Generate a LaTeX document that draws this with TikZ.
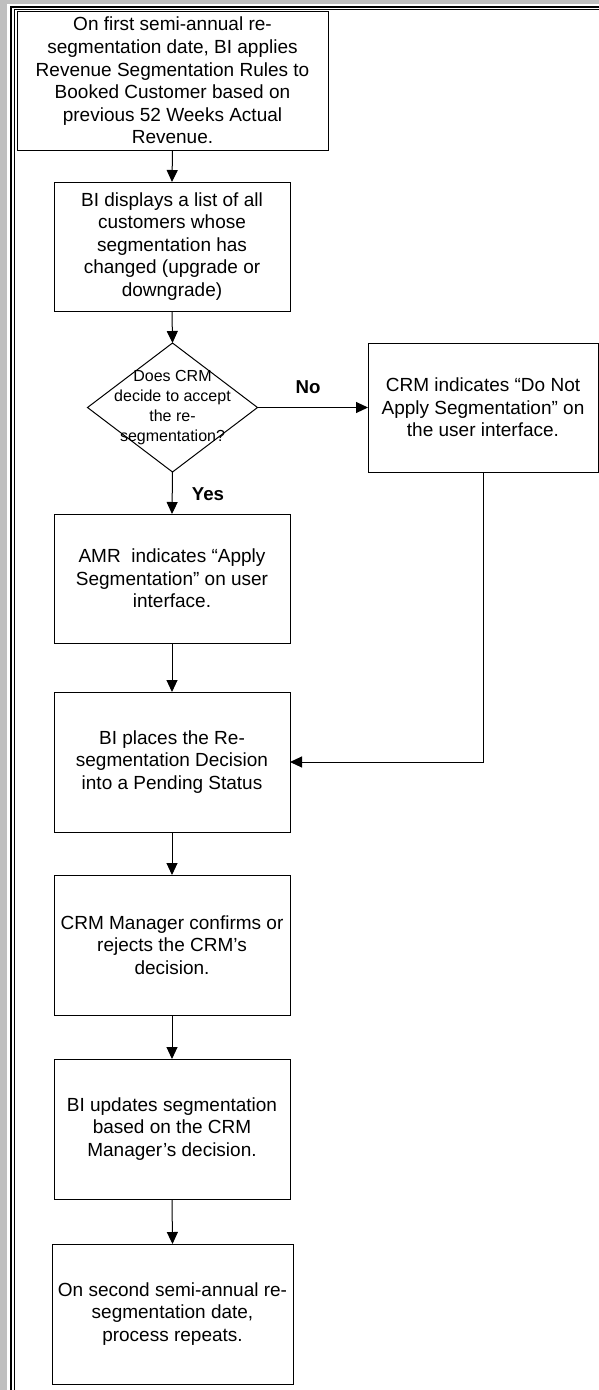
\documentclass[tikz,border=0pt]{standalone}
\usepackage{fontspec}
\setmainfont{Liberation Sans}
\usetikzlibrary{shapes.geometric,arrows.meta}
\begin{document}
\begin{tikzpicture}[x=0.75pt,y=-0.75pt,
  every node/.style={inner sep=0pt, outer sep=0pt},
  stepbox/.style={draw=black, line width=0.75pt, fill=white,
    minimum width=177pt, minimum height=96.75pt,
    align=center, font=\fontsize{14.25pt}{16.9pt}\selectfont},
  tallbox/.style={stepbox, minimum height=105pt},
  decision/.style={draw=black, line width=0.75pt, diamond, fill=white,
    minimum width=127.5pt, minimum height=96.75pt},
  dtxt/.style={align=center, font=\fontsize{12pt}{15pt}\selectfont},
  lbl/.style={font=\fontsize{14pt}{16pt}\selectfont\bfseries},
  flow/.style={line width=0.75pt, -{Triangle[width=8.25pt,length=9pt]}}
]
\useasboundingbox (0,0) rectangle (599,1390);

% page frame: grey margin and double rule
\fill[gray!50] (0,0) rectangle (7,1390);
\fill[gray!50] (0,0) rectangle (599,4);
\draw[line width=1.5pt] (11,1390) -- (11,6.5) -- (599,6.5);
\draw[line width=0.75pt] (14,1390) -- (14,9.5) -- (599,9.5);

% process steps
\node[stepbox, minimum width=233.25pt, minimum height=104.25pt] (b1) at (172.5,80.5)
  {On first semi-annual re-\\segmentation date, BI applies\\Revenue Segmentation Rules to\\Booked Customer based on\\previous 52 Weeks Actual\\Revenue.};
\node[stepbox] (b2) at (172,246.5)
  {BI displays a list of all\\customers whose\\segmentation has\\changed (upgrade or\\downgrade)};
\node[decision] (d) at (172.5,407.5) {};
\node[dtxt] (dt) at (d.center) {Does CRM\\decide to accept\\the re-\\segmentation?};
\node[stepbox, minimum width=172.5pt] (no) at (483,407.5)
  {CRM indicates “Do Not\\Apply Segmentation” on\\the user interface.};
\node[stepbox] (b3) at (172,578.5)
  {AMR\ \ indicates “Apply\\Segmentation” on user\\interface.};
\node[tallbox] (b4) at (172,762)
  {BI places the Re-\\segmentation Decision\\into a Pending Status};
\node[tallbox] (b5) at (172,945)
  {CRM Manager confirms or\\rejects the CRM’s\\decision.};
\node[tallbox] (b6) at (172,1129)
  {BI updates segmentation\\based on the CRM\\Manager’s decision.};
\node[tallbox, minimum width=180.75pt] (b7) at (172.5,1314)
  {On second semi-annual re-\\segmentation date,\\process repeats.};

% branch labels
\node[lbl] (lno) at (308,387) {No};
\node[lbl] (lyes) at (208,494) {Yes};

% connectors
\draw[flow] (b1.south) -- (b2.north);
\draw[flow] (b2.south) -- (d.north);
\draw[flow] (d.east) -- (no.west);
\draw[flow] (d.south) -- (b3.north);
\draw[flow] (b3.south) -- (b4.north);
\draw[flow] (no.south) |- (b4.east);
\draw[flow] (b4.south) -- (b5.north);
\draw[flow] (b5.south) -- (b6.north);
\draw[flow] (b6.south) -- (b7.north);
\end{tikzpicture}
\end{document}
